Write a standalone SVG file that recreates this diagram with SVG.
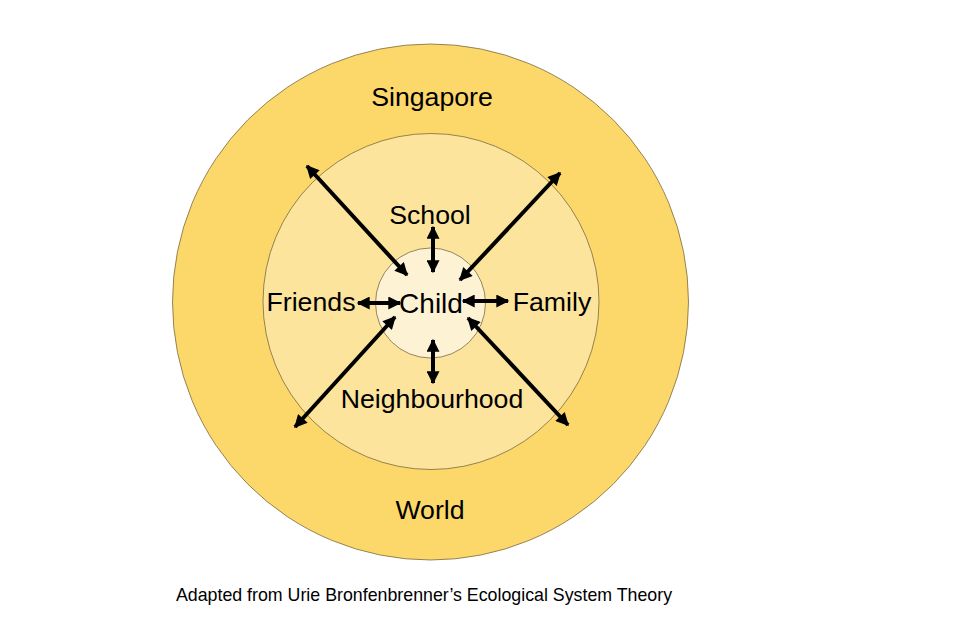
<svg xmlns="http://www.w3.org/2000/svg" width="960" height="628" viewBox="0 0 960 628">
<style>
.lbl{font-family:"Liberation Sans",Arial,sans-serif;font-size:26.7px;fill:#000;text-anchor:middle}
.arr{stroke:#000;stroke-width:4;fill:none;marker-start:url(#ah);marker-end:url(#ah)}
.ring{stroke:#7a6a40;stroke-width:0.8}
</style>
<defs>
<marker id="ah" viewBox="0 0 10 10" refX="9" refY="5" markerWidth="15" markerHeight="13" markerUnits="userSpaceOnUse" orient="auto-start-reverse">
<path d="M0,0 L10,5 L0,10 z" fill="#000"/>
</marker>
</defs>
<rect width="960" height="628" fill="#fff"/>
<g id="world">
<circle class="ring" cx="430.5" cy="302" r="258" fill="#FCD86B"/>
<text class="lbl" x="430" y="519">World</text>
<text class="lbl" x="432" y="106">Singapore</text>
</g>
<g id="mid">
<circle class="ring" cx="431" cy="301.5" r="168" fill="#FDE49C"/>
</g>
<g id="child">
<circle class="ring" cx="430.5" cy="303" r="55" fill="#FEF2D4"/>
<text class="lbl" x="431" y="313" style="font-size:28px">Child</text>
</g>
<g id="school"><text class="lbl" x="430" y="224">School</text></g>
<g id="friends"><text class="lbl" x="311" y="311">Friends</text></g>
<g id="family"><text class="lbl" x="552" y="311">Family</text></g>
<g id="neighbourhood"><text class="lbl" x="432" y="408">Neighbourhood</text></g>
<g id="connectors">
<line class="arr" x1="307" y1="166" x2="407" y2="275"/>
<line class="arr" x1="560" y1="173" x2="460" y2="280"/>
<line class="arr" x1="295" y1="427" x2="395" y2="317"/>
<line class="arr" x1="568" y1="425" x2="468" y2="318"/>
<line class="arr" x1="433" y1="227" x2="433" y2="272"/>
<line class="arr" x1="433" y1="340" x2="433" y2="383"/>
<line class="arr" x1="358" y1="303" x2="400" y2="303"/>
<line class="arr" x1="463" y1="301" x2="508" y2="301"/>
</g>
<text x="424" y="601" style="font-family:'Liberation Sans',Arial,sans-serif;font-size:17.8px;text-anchor:middle">Adapted from Urie Bronfenbrenner’s Ecological System Theory</text>
</svg>
